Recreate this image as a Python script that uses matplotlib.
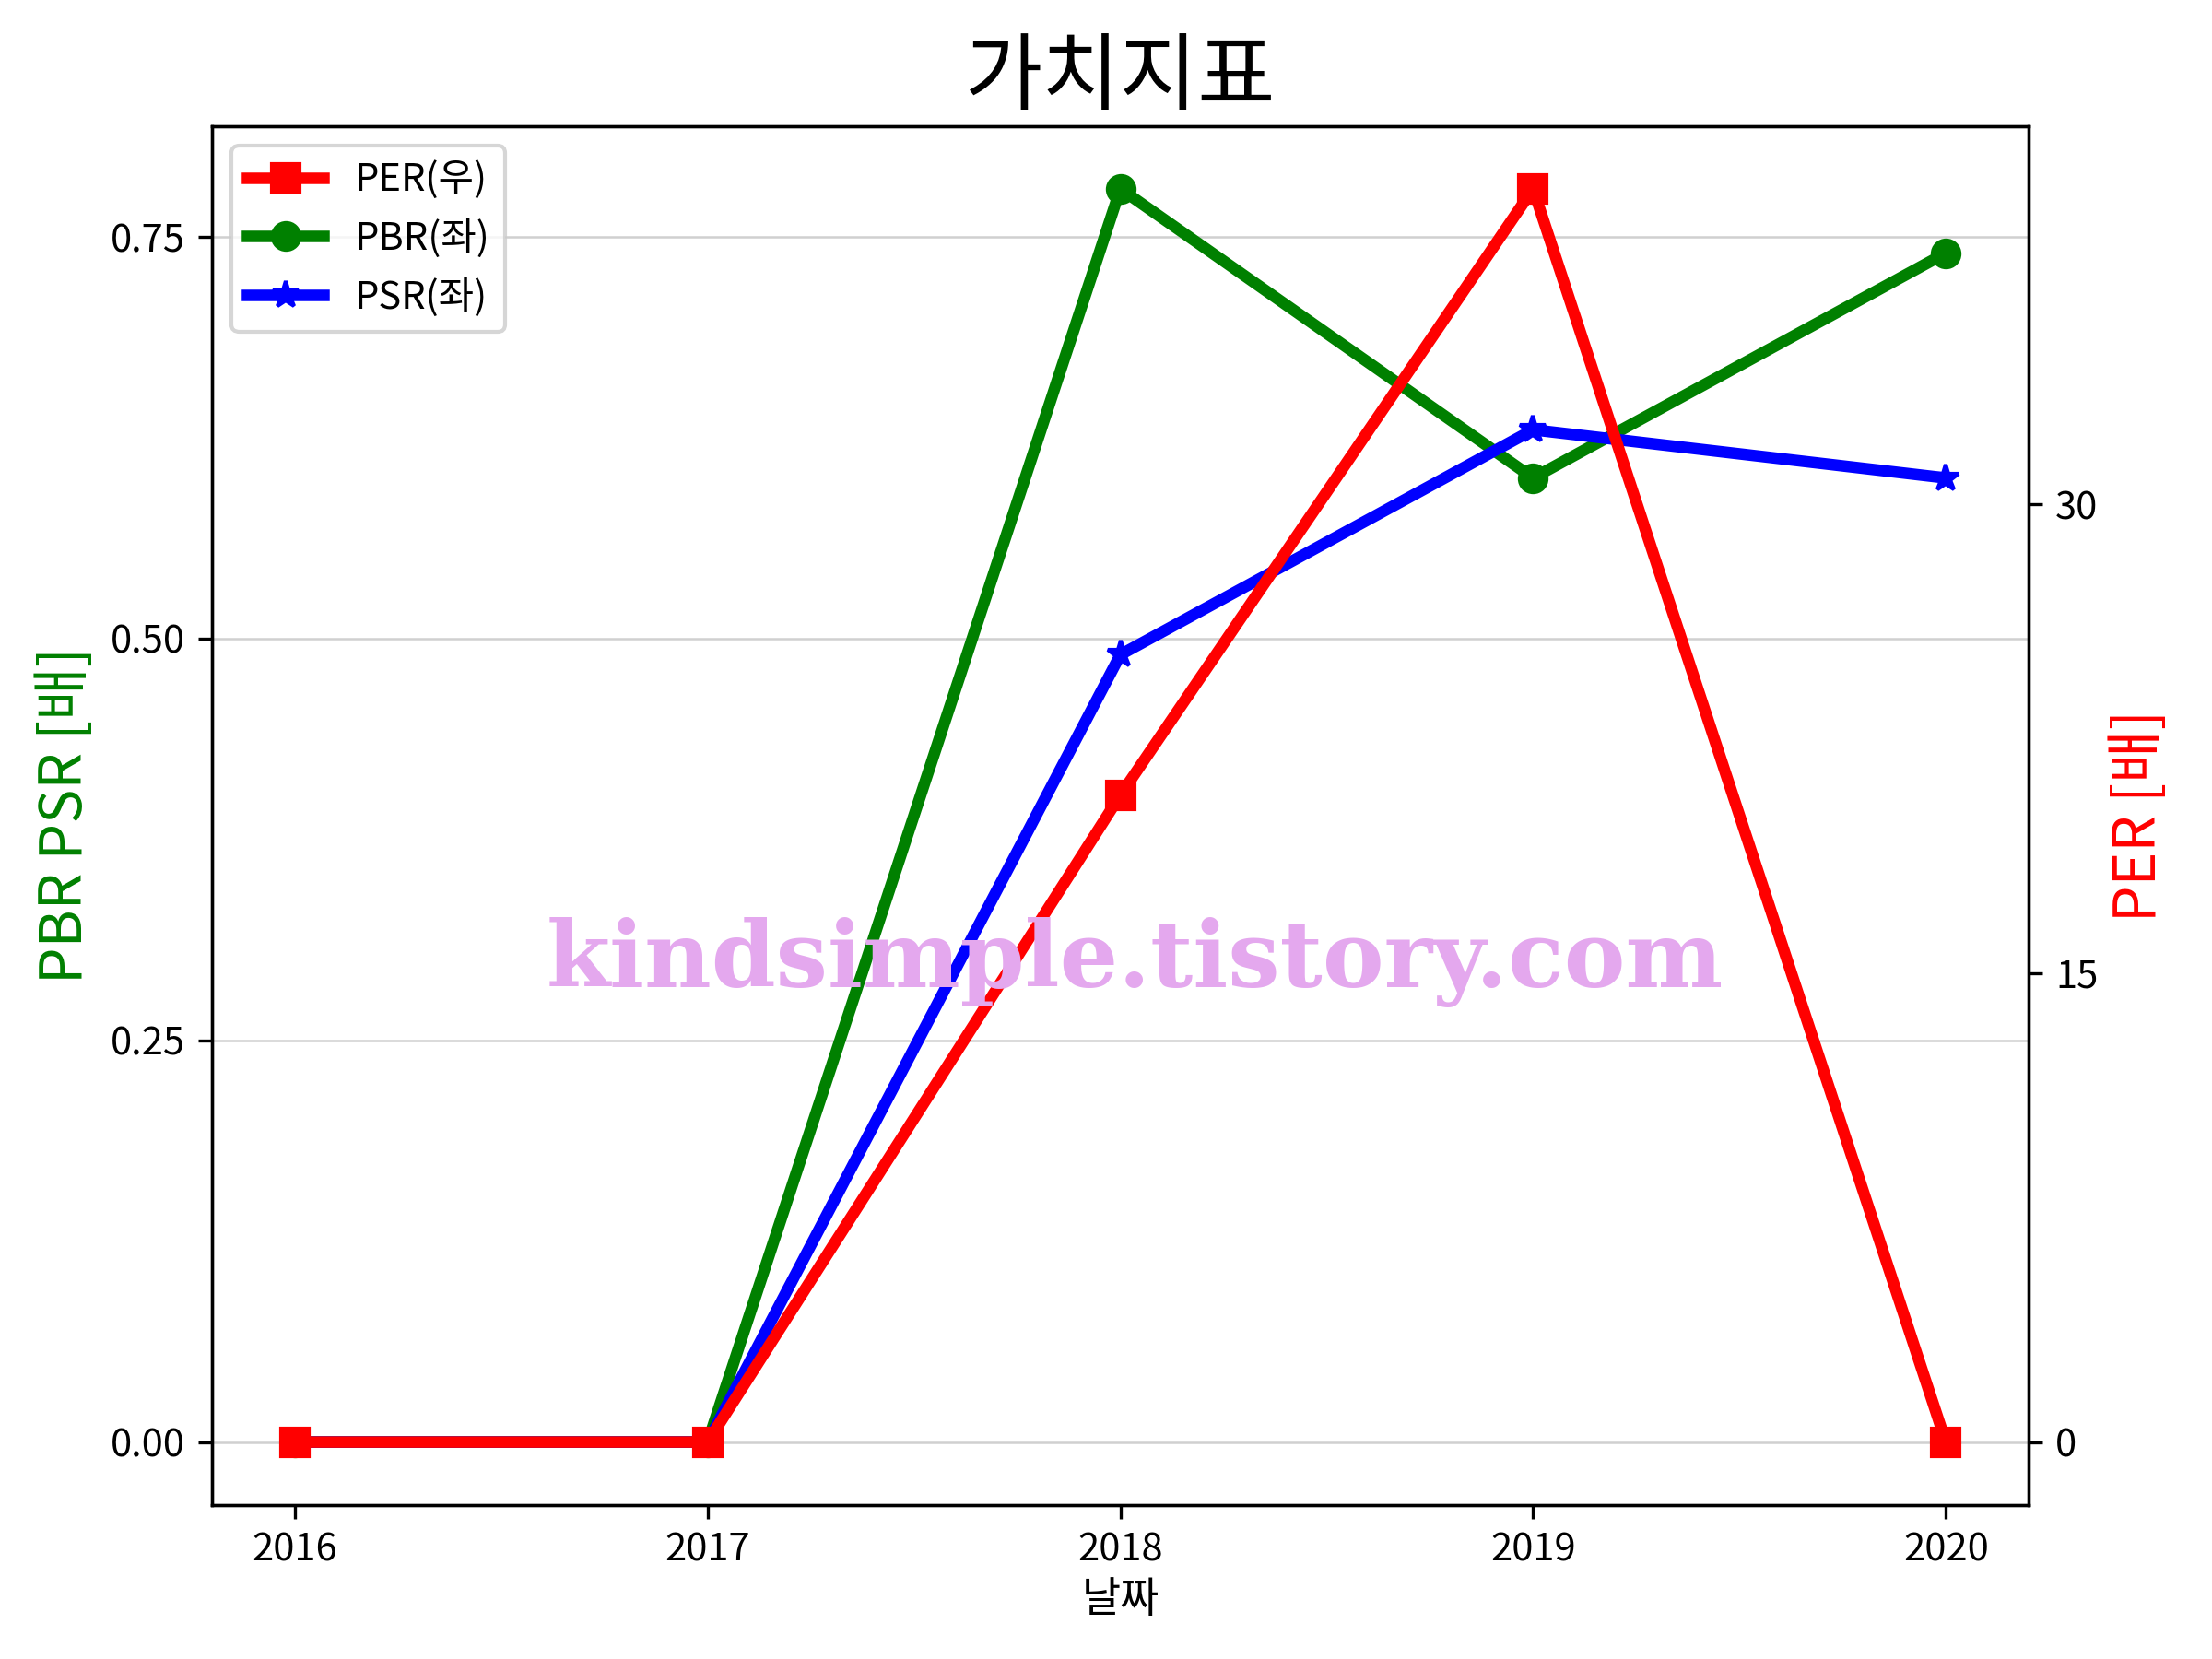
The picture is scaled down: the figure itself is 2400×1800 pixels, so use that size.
import matplotlib.pyplot as plt

plt.rcParams['font.family'] = ['Noto Sans CJK KR', 'DejaVu Sans']
plt.rcParams['axes.unicode_minus'] = False

years = ['2016', '2017', '2018', '2019', '2020']
per = [0.0, 0.0, 20.7, 40.1, 0.0]
pbr = [0.0, 0.0, 0.78, 0.60, 0.74]
psr = [0.0, 0.0, 0.49, 0.63, 0.60]

fig, ax1 = plt.subplots(figsize=(8, 6), dpi=300)
fig.subplots_adjust(left=0.096, right=0.917, top=0.924, bottom=0.093)

ax1.plot(years, pbr, color='green', marker='o', lw=3, ms=7, label='PBR(좌)')
ax1.plot(years, psr, color='blue', marker='*', lw=3, ms=7, label='PSR(좌)')
ax1.set_yticks([0, 0.25, 0.5, 0.75])
ax1.set_yticklabels(['0.00', '0.25', '0.50', '0.75'])
ax1.grid(axis='y', color='#d0d0d0', lw=0.6)
ax1.set_ylabel('PBR PSR [배]', color='green', fontsize=15)
ax1.set_xlabel('날짜', fontsize=11, labelpad=2)

ax2 = ax1.twinx()
ax2.plot(years, per, color='red', marker='s', lw=3, ms=7, label='PER(우)')
ax2.set_yticks([0, 15, 30])
ax2.set_ylabel('PER [배]', color='red', fontsize=15, labelpad=3)

h1, l1 = ax1.get_legend_handles_labels()
h2, l2 = ax2.get_legend_handles_labels()
ax2.legend(h2 + h1, l2 + l1, loc='upper left', fontsize=10)

ax1.set_title('가치지표', fontsize=22)

fig.text(0.513, 0.42, 'kindsimple.tistory.com', fontsize=24, fontweight='bold',
         family='DejaVu Serif', color='#e4a8ee', ha='center', va='center', zorder=10)

fig.savefig('out.png')
